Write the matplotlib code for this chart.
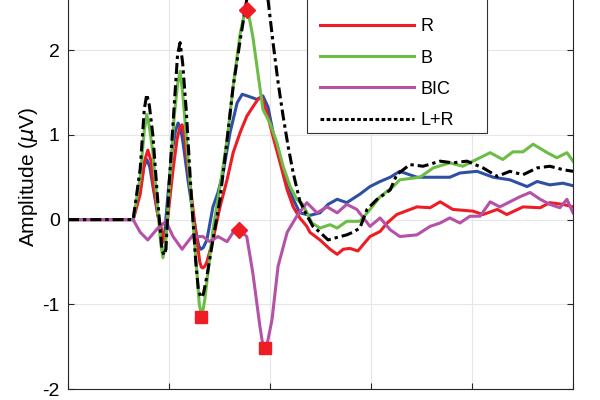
import matplotlib
matplotlib.use('Agg')
import matplotlib.pyplot as plt
from matplotlib.lines import Line2D
from matplotlib.patches import Rectangle

plt.rcParams['font.family'] = ['Liberation Sans', 'DejaVu Sans']
plt.rcParams['mathtext.fontset'] = 'dejavusans'
plt.rcParams['axes.unicode_minus'] = False

# time axis in ms, amplitude in microvolts
t_l = [0, 1.29, 1.43, 1.50, 1.56, 1.62, 1.68, 1.78, 1.90, 1.98, 2.06, 2.13, 2.18, 2.23, 2.28,
       2.38, 2.48, 2.55, 2.59, 2.63, 2.68, 2.75, 2.87, 2.97, 3.07, 3.21, 3.35, 3.45, 3.60, 3.74,
       3.86, 3.96, 4.06, 4.20, 4.34, 4.46, 4.59, 4.79, 4.99, 5.15, 5.33, 5.52, 5.78, 5.98, 6.18,
       6.38, 6.57, 6.91, 7.23, 7.56, 7.76, 8.10, 8.42, 8.75, 9.09, 9.29, 9.54, 9.80, 10.0]
v_l = [0, 0, 0.35, 0.62, 0.71, 0.62, 0.40, 0.05, -0.26, 0.30, 0.80, 1.05, 1.14, 1.08, 0.90,
       0.45, 0.05, -0.20, -0.31, -0.35, -0.33, -0.24, 0.15, 0.32, 0.55, 1.03, 1.38, 1.48, 1.45,
       1.42, 1.46, 1.33, 1.03, 0.71, 0.44, 0.24, 0.08, 0.05, 0.08, 0.18, 0.24, 0.20, 0.30, 0.39,
       0.45, 0.50, 0.57, 0.50, 0.50, 0.50, 0.55, 0.57, 0.50, 0.47, 0.39, 0.45, 0.41, 0.43, 0.40]

t_r = [0, 1.29, 1.43, 1.52, 1.58, 1.64, 1.68, 1.78, 1.92, 2.08, 2.16, 2.21, 2.26, 2.30, 2.34,
       2.42, 2.53, 2.61, 2.64, 2.67, 2.71, 2.75, 2.87, 3.01, 3.15, 3.27, 3.41, 3.54, 3.66, 3.76,
       3.84, 3.94, 4.06, 4.20, 4.34, 4.46, 4.59, 4.73, 4.79, 4.99, 5.19, 5.33, 5.45, 5.58, 5.74,
       5.98, 6.18, 6.32, 6.51, 6.91, 7.17, 7.37, 7.62, 8.02, 8.22, 8.50, 8.69, 9.01, 9.35, 9.54,
       9.80, 10.0]
v_r = [0, 0, 0.30, 0.70, 0.82, 0.70, 0.45, 0.05, -0.28, 0.59, 0.95, 1.08, 1.12, 1.02, 0.80,
       0.40, -0.15, -0.50, -0.56, -0.57, -0.55, -0.50, -0.24, 0.15, 0.47, 0.79, 1.03, 1.22, 1.33,
       1.42, 1.44, 1.26, 0.98, 0.67, 0.35, 0.15, 0.02, -0.08, -0.15, -0.24, -0.35, -0.41, -0.35,
       -0.34, -0.37, -0.20, -0.14, -0.04, 0.06, 0.15, 0.14, 0.21, 0.12, 0.10, 0.06, 0.12, 0.06,
       0.15, 0.14, 0.20, 0.18, 0.15]

t_b = [0, 1.29, 1.43, 1.51, 1.56, 1.61, 1.68, 1.78, 1.84, 1.88, 1.93, 2.00, 2.10, 2.17, 2.22,
       2.27, 2.34, 2.46, 2.55, 2.60, 2.65, 2.71, 2.87, 3.01, 3.15, 3.27, 3.41, 3.49, 3.54, 3.59,
       3.66, 3.76, 3.86, 4.00, 4.14, 4.26, 4.40, 4.53, 4.65, 4.83, 4.99, 5.19, 5.33, 5.52, 5.78,
       5.98, 6.18, 6.44, 6.57, 6.97, 7.23, 7.56, 7.82, 8.02, 8.36, 8.61, 8.81, 9.01, 9.21, 9.49,
       9.68, 9.88, 10.0]
v_b = [0, 0, 0.50, 1.05, 1.24, 1.10, 0.80, 0.10, -0.30, -0.45, -0.30, 0.30, 1.20, 1.60, 1.75,
       1.50, 1.00, 0.10, -0.60, -1.00, -1.15, -0.94, -0.12, 0.39, 0.94, 1.57, 2.20, 2.42, 2.48,
       2.38, 2.16, 1.73, 1.30, 1.14, 0.90, 0.63, 0.39, 0.24, 0.18, -0.04, -0.10, -0.06, -0.10,
       -0.02, -0.02, 0.12, 0.27, 0.39, 0.47, 0.50, 0.61, 0.67, 0.63, 0.69, 0.79, 0.71, 0.80, 0.80,
       0.89, 0.79, 0.73, 0.79, 0.69]

t_bic = [0, 1.29, 1.43, 1.58, 1.78, 1.94, 2.08, 2.26, 2.36, 2.48, 2.55, 2.67, 2.81, 2.97, 3.15,
         3.27, 3.39, 3.54, 3.66, 3.80, 3.85, 3.90, 3.95, 4.04, 4.16, 4.34, 4.53, 4.73, 4.93, 5.13,
         5.33, 5.52, 5.72, 5.98, 6.18, 6.38, 6.57, 6.91, 7.17, 7.37, 7.56, 7.76, 7.96, 8.16, 8.36,
         8.55, 8.75, 8.95, 9.15, 9.35, 9.54, 9.74, 9.88, 10.0]
v_bic = [0, 0, -0.15, -0.24, -0.10, -0.02, -0.20, -0.35, -0.27, -0.18, -0.20, -0.20, -0.26, -0.20,
         -0.26, -0.15, -0.12, -0.20, -0.63, -1.26, -1.45, -1.51, -1.45, -1.18, -0.55, -0.15, 0.04,
         0.20, 0.08, 0.15, 0.08, 0.18, 0.12, -0.08, 0.02, -0.12, -0.20, -0.18, -0.08, -0.04, 0.02,
         -0.04, 0.04, 0.04, 0.21, 0.15, 0.21, 0.27, 0.32, 0.24, 0.18, 0.14, 0.24, 0.08]

t_lr = [0, 1.29, 1.43, 1.51, 1.56, 1.61, 1.68, 1.78, 1.86, 1.90, 1.94, 2.00, 2.12, 2.17, 2.22,
        2.27, 2.34, 2.44, 2.53, 2.58, 2.63, 2.68, 2.75, 2.87, 3.01, 3.15, 3.27, 3.41, 3.54, 3.64,
        3.74, 3.84, 3.96, 4.06, 4.16, 4.26, 4.36, 4.46, 4.59, 4.73, 4.85, 4.99, 5.15, 5.33, 5.52,
        5.64, 5.78, 5.92, 6.12, 6.38, 6.51, 6.77, 7.03, 7.37, 7.62, 7.90, 8.22, 8.50, 8.75, 9.01,
        9.29, 9.54, 9.80, 10.0]
v_lr = [0, 0, 0.60, 1.30, 1.48, 1.35, 1.00, 0.20, -0.35, -0.42, -0.35, 0.40, 1.50, 1.95, 2.09,
        1.85, 1.30, 0.30, -0.50, -0.82, -0.92, -0.88, -0.67, -0.24, 0.24, 0.94, 1.57, 2.12, 2.60,
        2.85, 2.92, 2.85, 2.60, 2.09, 1.62, 1.22, 0.86, 0.55, 0.22, 0.05, -0.08, -0.15, -0.24,
        -0.21, -0.18, -0.15, -0.10, 0.12, 0.24, 0.35, 0.53, 0.65, 0.63, 0.69, 0.67, 0.69, 0.61,
        0.51, 0.57, 0.53, 0.61, 0.63, 0.59, 0.57]

# marked extrema
peak_t = [3.54, 3.39]
peak_v = [2.48, -0.12]
trough_t = [2.63, 3.90]
trough_v = [-1.15, -1.52]

labels = ['L', 'R', 'B', 'BIC', 'L+R']
colors = ['#2e4fa3', '#ee1c24', '#6cbd45', '#b452a8', 'black']

fig = plt.figure(figsize=(6, 4), dpi=100)
# axes run past the top edge of the picture, as in the reference crop
ax_h = 423.5
ax = fig.add_axes([68 / 600, 11 / 400, 505 / 600, ax_h / 400])

lw = 2.2
h_l, = ax.plot(t_l, v_l, color=colors[0], lw=lw)
h_r, = ax.plot(t_r, v_r, color=colors[1], lw=lw)
h_b, = ax.plot(t_b, v_b, color=colors[2], lw=lw)
h_bic, = ax.plot(t_bic, v_bic, color=colors[3], lw=lw)
ax.plot(t_lr, v_lr, color=colors[4], lw=lw, dashes=[3.6, 1.3, 1.1, 1.3])

ax.plot(peak_t, peak_v, 'D', color='#ee1c24', ms=8, ls='none')
ax.plot(trough_t, trough_v, 's', color='#ee1c24', ms=9, ls='none')

ax.set_xlim(0, 10)
ax.set_ylim(-2, 3)
ax.set_xticks([0, 2, 4, 6, 8, 10])
ax.set_yticks([-2, -1, 0, 1, 2])
ax.set_xticklabels([])
ax.grid(True, color='#e6e6e6', lw=0.8)
ax.set_axisbelow(True)
for s in ax.spines.values():
    s.set_color('#262626')
    s.set_linewidth(0.8)
ax.tick_params(direction='in', length=4, width=0.8, color='#262626',
               top=True, right=True, labelsize=14, pad=6)
ax.set_ylabel(r'Amplitude ($\mu$V)', fontsize=15, labelpad=2)

# legend frame drawn separately so its width matches the reference
frame = Rectangle(((307 - 68) / 505, (389 - 133) / ax_h), 180 / 505, 160 / ax_h,
                  transform=ax.transAxes, facecolor='white', edgecolor='#333333',
                  lw=0.8, zorder=4.9, clip_on=False)
ax.add_patch(frame)

h_lr = Line2D([], [], color='black', lw=lw, dashes=[1.2, 0.8])
leg = ax.legend([h_l, h_r, h_b, h_bic, h_lr], labels, loc='lower left',
                bbox_to_anchor=((315 - 68) / 505, (389 - 134.5) / ax_h),
                borderaxespad=0, frameon=False, fontsize=13, handlelength=5.2,
                handletextpad=0.35, labelspacing=0.79, borderpad=0.3)
leg.set_zorder(5)

fig.savefig('out.png', dpi=100)
